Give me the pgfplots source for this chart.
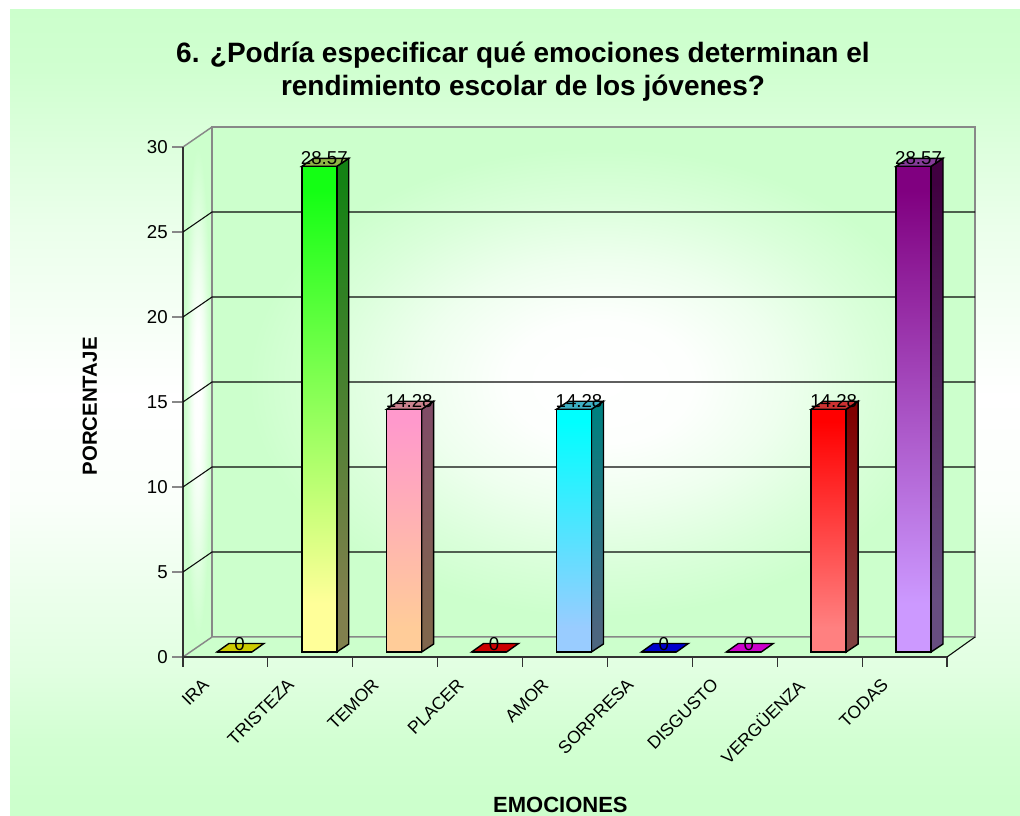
\documentclass[border=0pt]{standalone}
\usepackage{fontspec}
\setmainfont{Liberation Sans}
\usepackage{pgfplots}
\pgfplotsset{compat=1.18}
\definecolor{G}{RGB}{204,255,204}
\definecolor{BA}{RGB}{208,255,208}
\definecolor{BB}{RGB}{220,255,220}
\definecolor{BC}{RGB}{235,255,235}
\definecolor{BD}{RGB}{250,255,250}
\definecolor{BE}{RGB}{225,255,225}
\definecolor{BF}{RGB}{210,255,210}
\definecolor{WL}{RGB}{253,255,253}
\definecolor{WA}{RGB}{238,255,238}
\definecolor{WB}{RGB}{218,255,218}
\definecolor{GLine}{RGB}{136,136,136}
\definecolor{DLine}{RGB}{10,10,10}
\definecolor{FLine}{RGB}{50,50,50}
% tikz maps the path's box onto the inner 25bp..75bp of a 100bp shading
\pgfdeclareverticalshading{bgshade}{100bp}{color(0bp)=(G); color(26bp)=(G); color(29.7bp)=(BF); color(34bp)=(BE); color(38.5bp)=(BC); color(44.5bp)=(BD); color(51bp)=(white); color(61.5bp)=(BC); color(67bp)=(BB); color(71.25bp)=(BA); color(75bp)=(G); color(100bp)=(G)}
\pgfdeclareradialshading{wallshade}{\pgfpoint{0.5bp}{0bp}}{color(0bp)=(white); color(6bp)=(WL); color(12bp)=(WA); color(18bp)=(WB); color(23bp)=(G); color(100bp)=(G)}
\newcommand{\mkshade}[5]{%
  \definecolor{#1T}{RGB}{#2}\definecolor{#1B}{RGB}{#3}%
  \pgfdeclareverticalshading{#1}{100bp}{color(0bp)=(#1B); color(30bp)=(#1B); color(72.5bp)=(#1T); color(100bp)=(#1T)}%
  \definecolor{#1sT}{RGB}{#4}\definecolor{#1sB}{RGB}{#5}%
  \pgfdeclareverticalshading{#1s}{100bp}{color(0bp)=(#1sB); color(30bp)=(#1sB); color(72.5bp)=(#1sT); color(100bp)=(#1sT)}}
\mkshade{tri}{20,255,20}{255,255,153}{20,130,20}{128,128,77}
\mkshade{tem}{255,153,204}{255,204,153}{128,76,102}{128,102,77}
\mkshade{amo}{0,255,255}{153,204,255}{0,128,128}{77,102,128}
\mkshade{ver}{255,0,0}{255,128,128}{128,0,0}{128,64,64}
\mkshade{tod}{128,0,128}{204,153,255}{64,0,64}{102,77,128}
\newcommand{\lblfont}{\fontsize{14}{16}\selectfont}
\pgfplotsset{
  frontbar/.style={ybar,bar width=26.25pt,bar shift=0pt,draw=black,line width=1.05pt,xshift=6.75pt,yshift=3.75pt,
    nodes near coords={\pgfmathprintnumber[fixed,precision=2,assume math mode=true]{\pgfplotspointmeta}},
    nodes near coords style={font=\lblfont,anchor=base,inner sep=0pt,xshift=3.75pt,yshift=1pt,text=black}},
  face/.style={draw=black,line width=1.05pt,xshift=6.75pt,yshift=3.75pt},
  gridl/.style={draw=DLine,line width=0.8pt},
  edge/.style={draw=GLine,line width=1.1pt},
}
\begin{document}
\begin{tikzpicture}
\useasboundingbox (0,0) rectangle (765pt,612pt);
\shade[shading=bgshade] (7.5pt,0pt) rectangle (765pt,604.5pt);
\begin{axis}[
  at={(137.25pt,119.25pt)},anchor=south west,
  scale only axis,width=573pt,height=382.5pt,
  xmin=0,xmax=9,ymin=0,ymax=30,clip=false,
  axis x line*=bottom,axis y line*=left,
  axis line style={draw=FLine,line width=0.8pt},
  tick align=outside,
  xtick={0.5,1.5,2.5,3.5,4.5,5.5,6.5,7.5,8.5},
  xticklabels={IRA,TRISTEZA,TEMOR,PLACER,AMOR,SORPRESA,DISGUSTO,VERGÜENZA,TODAS},
  minor xtick={0,1,2,3,4,5,6,7,8,9},
  ytick={0,5,10,15,20,25,30},
  major x tick style={draw=none},
  minor x tick style={draw=FLine,line width=0.85pt},
  y tick style={draw=GLine,line width=1.1pt},
  major tick length=8.25pt,minor tick length=7.5pt,
  /pgf/number format/assume math mode=true,
  x tick label style={font=\fontsize{13.2}{16}\selectfont,rotate=45,anchor=north east,inner sep=0pt,xshift=-17.5pt,yshift=8pt},
  y tick label style={font=\lblfont,inner sep=0pt,xshift=-3pt},
  title={6. ¿Podría especificar qué emociones determinan el\\rendimiento escolar de los jóvenes?},
  title style={font=\fontsize{21}{24.75}\selectfont\bfseries,align=center,anchor=north,at={(rel axis cs:0.445,1.2)}},
  xlabel={EMOCIONES},
  xlabel style={font=\fontsize{16.5}{18}\selectfont\bfseries,anchor=center,at={(rel axis cs:0.494,-0.29)}},
  ylabel={PORCENTAJE},
  ylabel style={font=\fontsize{15.3}{18}\selectfont\bfseries,rotate=0,anchor=center,at={(rel axis cs:-0.122,0.4915)}},
]
% walls and floor
\addplot[edge,shading=wallshade] coordinates {(0.342,1.176)(9.33,1.176)(9.33,31.176)(0.342,31.176)} -- cycle;
\addplot[draw=none,shading=wallshade] coordinates {(0,0)(0.342,1.176)(0.342,31.176)(0,30)} -- cycle;
\addplot[draw=none,fill=G] coordinates {(0,0)(9,0)(9.33,1.176)(0.342,1.176)} -- cycle;
% edges
\addplot[edge] coordinates {(0,30)(0.342,31.176)(9.33,31.176)(9.33,1.176)(0.342,1.176)(0,0)};
\addplot[edge] coordinates {(0.342,1.176)(0.342,31.176)};
\addplot[gridl] coordinates {(9,0)(9.33,1.176)};
\addplot[draw=FLine,line width=0.8pt] coordinates {(0,30)(0,0)(9,0)};
% grid
\addplot[gridl] coordinates {(0,5)(0.342,6.176)(9.33,6.176)};
\addplot[gridl] coordinates {(0,10)(0.342,11.176)(9.33,11.176)};
\addplot[gridl] coordinates {(0,15)(0.342,16.176)(9.33,16.176)};
\addplot[gridl] coordinates {(0,20)(0.342,21.176)(9.33,21.176)};
\addplot[gridl] coordinates {(0,25)(0.342,26.176)(9.33,26.176)};
% IRA
\addplot[face,fill={rgb,255:red,204;green,204;blue,0}] coordinates {(0.294,0)(0.706,0)(0.847,0.5)(0.435,0.5)} -- cycle;
\addplot[frontbar] coordinates {(0.5,0)};
% TRISTEZA
\addplot[face,shading=tris] coordinates {(1.706,0)(1.847,0.47)(1.847,29.04)(1.706,28.57)} -- cycle;
\addplot[face,fill={rgb,255:red,145;green,180;blue,70}] coordinates {(1.294,28.57)(1.706,28.57)(1.847,29.04)(1.435,29.04)} -- cycle;
\addplot[frontbar,shading=tri] coordinates {(1.5,28.57)};
% TEMOR
\addplot[face,shading=tems] coordinates {(2.706,0)(2.847,0.47)(2.847,14.75)(2.706,14.28)} -- cycle;
\addplot[face,fill={rgb,255:red,204;green,130;blue,143}] coordinates {(2.294,14.28)(2.706,14.28)(2.847,14.75)(2.435,14.75)} -- cycle;
\addplot[frontbar,shading=tem] coordinates {(2.5,14.28)};
% PLACER
\addplot[face,fill={rgb,255:red,204;green,0;blue,0}] coordinates {(3.294,0)(3.706,0)(3.847,0.5)(3.435,0.5)} -- cycle;
\addplot[frontbar] coordinates {(3.5,0)};
% AMOR
\addplot[face,shading=amos] coordinates {(4.706,0)(4.847,0.47)(4.847,14.75)(4.706,14.28)} -- cycle;
\addplot[face,fill={rgb,255:red,61;green,175;blue,195}] coordinates {(4.294,14.28)(4.706,14.28)(4.847,14.75)(4.435,14.75)} -- cycle;
\addplot[frontbar,shading=amo] coordinates {(4.5,14.28)};
% SORPRESA
\addplot[face,fill={rgb,255:red,0;green,0;blue,204}] coordinates {(5.294,0)(5.706,0)(5.847,0.5)(5.435,0.5)} -- cycle;
\addplot[frontbar] coordinates {(5.5,0)};
% DISGUSTO
\addplot[face,fill={rgb,255:red,204;green,0;blue,204}] coordinates {(6.294,0)(6.706,0)(6.847,0.5)(6.435,0.5)} -- cycle;
\addplot[frontbar] coordinates {(6.5,0)};
% VERGUENZA
\addplot[face,shading=vers] coordinates {(7.706,0)(7.847,0.47)(7.847,14.75)(7.706,14.28)} -- cycle;
\addplot[face,fill={rgb,255:red,204;green,50;blue,50}] coordinates {(7.294,14.28)(7.706,14.28)(7.847,14.75)(7.435,14.75)} -- cycle;
\addplot[frontbar,shading=ver] coordinates {(7.5,14.28)};
% TODAS
\addplot[face,shading=tods] coordinates {(8.706,0)(8.847,0.47)(8.847,29.04)(8.706,28.57)} -- cycle;
\addplot[face,fill={rgb,255:red,133;green,60;blue,153}] coordinates {(8.294,28.57)(8.706,28.57)(8.847,29.04)(8.435,29.04)} -- cycle;
\addplot[frontbar,shading=tod] coordinates {(8.5,28.57)};
\end{axis}
\end{tikzpicture}
\end{document}
